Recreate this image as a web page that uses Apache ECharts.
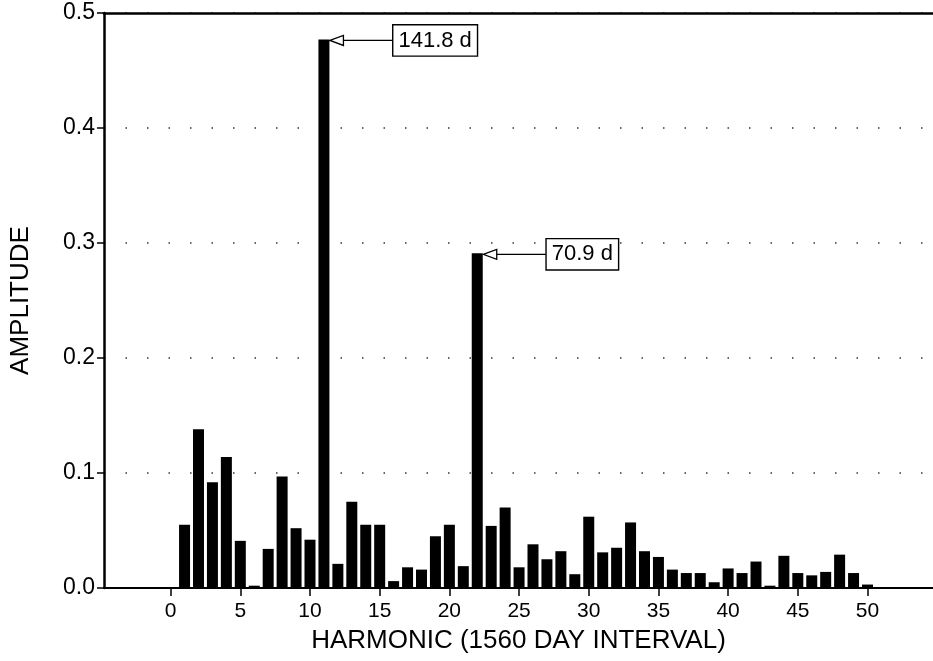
<!DOCTYPE html>
<html>
<head>
<meta charset="utf-8">
<script src="https://cdn.jsdelivr.net/npm/echarts@6/dist/echarts.min.js"></script>
<style>
html,body{margin:0;padding:0;background:#fff;}
#chart{width:933px;height:661px;}
</style>
</head>
<body>
<div id="chart"></div>
<script>
// Harmonic numbers and amplitudes
const harmonics = [0,1,2,3,4,5,6,7,8,9,10,11,12,13,14,15,16,17,18,19,20,21,22,23,24,25,26,27,28,29,30,31,32,33,34,35,36,37,38,39,40,41,42,43,44,45,46,47,48,49,50];
const amplitudes = [0.0,0.055,0.138,0.092,0.114,0.041,0.002,0.034,0.097,0.052,0.042,0.477,0.021,0.075,0.055,0.055,0.006,0.018,0.016,0.045,0.055,0.019,0.291,0.054,0.070,0.018,0.038,0.025,0.032,0.012,0.062,0.031,0.035,0.057,0.032,0.027,0.016,0.013,0.013,0.005,0.017,0.013,0.023,0.002,0.028,0.013,0.011,0.014,0.029,0.013,0.003];
const xTicks = [0,5,10,15,20,25,30,35,40,45,50];
const yTicks = [0,0.1,0.2,0.3,0.4,0.5];
const annotHarmonics = [11,22];
const annotLabels = ['141.8 d','70.9 d'];

const FONT = '"Liberation Sans", Arial, Helvetica, sans-serif';
const chart = echarts.init(document.getElementById('chart'), null, {renderer:'canvas'});

const barData = harmonics.map((h,i)=>[h, amplitudes[i]]);
const annotData = annotHarmonics.map(h=>[h, amplitudes[harmonics.indexOf(h)]]);

const option = {
  backgroundColor:'#fff',
  animation:false,
  grid:{left:104, right:0, top:13, bottom:73, containLabel:false},
  xAxis:[{
    type:'value', min:-4.78, max:54.7, position:'bottom',
    axisLine:{show:true, onZero:false, lineStyle:{color:'#000', width:2}},
    axisTick:{show:true, customValues:xTicks, length:8, lineStyle:{color:'#000', width:1.5}},
    axisLabel:{show:true, customValues:xTicks, color:'#000', fontSize:21, fontFamily:FONT, margin:13},
    splitLine:{show:false},
    name:'HARMONIC (1560 DAY INTERVAL)', nameLocation:'middle', nameGap:40,
    nameTextStyle:{color:'#000', fontSize:26, fontFamily:FONT}
  },{
    type:'value', min:-4.78, max:54.7, position:'top',
    axisLine:{show:true, onZero:false, lineStyle:{color:'#000', width:2.5}},
    axisTick:{show:false}, axisLabel:{show:false}, splitLine:{show:false}
  }],
  yAxis:{
    type:'value', min:0, max:0.5, interval:0.1, position:'left',
    axisLine:{show:true, onZero:false, lineStyle:{color:'#000', width:2.5}},
    axisTick:{show:true, length:7, lineStyle:{color:'#000', width:1.5}},
    axisLabel:{color:'#000', fontSize:23, fontFamily:FONT, margin:9, formatter:v=>v.toFixed(1)},
    splitLine:{show:true, lineStyle:{color:'#333', width:1.5, type:[1.5,20]}},
    name:'AMPLITUDE', nameLocation:'middle', nameRotate:90, nameGap:70,
    nameTextStyle:{color:'#000', fontSize:26, fontFamily:FONT}
  },
  series:[{
    type:'bar', data:barData, barWidth:11, xAxisIndex:0,
    itemStyle:{color:'#000'}, silent:true
  },{
    type:'custom', data:annotData, xAxisIndex:0, encode:{x:0,y:1}, silent:true, z:5,
    renderItem:function(params, api){
      const p = api.coord([api.value(0), api.value(1)]);
      const r = p[0] + 5.5;
      const y = p[1] + 1;
      const label = annotLabels[params.dataIndex];
      return {type:'group', children:[
        {type:'polygon', shape:{points:[[r+0.5,y],[r+14,y-5],[r+14,y+5]]}, style:{fill:'#fff', stroke:'#000', lineWidth:1.3}},
        {type:'line', shape:{x1:r+14,y1:y,x2:r+64,y2:y}, style:{stroke:'#000', lineWidth:1.3}},
        {type:'text', x:r+64, y:y, style:{text:label, font:'22px '+FONT, fill:'#000', verticalAlign:'middle', align:'left',
          padding:[5,5,3,5], borderColor:'#000', borderWidth:1.4, backgroundColor:'#fff'}}
      ]};
    }
  }]
};
chart.setOption(option);
</script>
</body>
</html>
